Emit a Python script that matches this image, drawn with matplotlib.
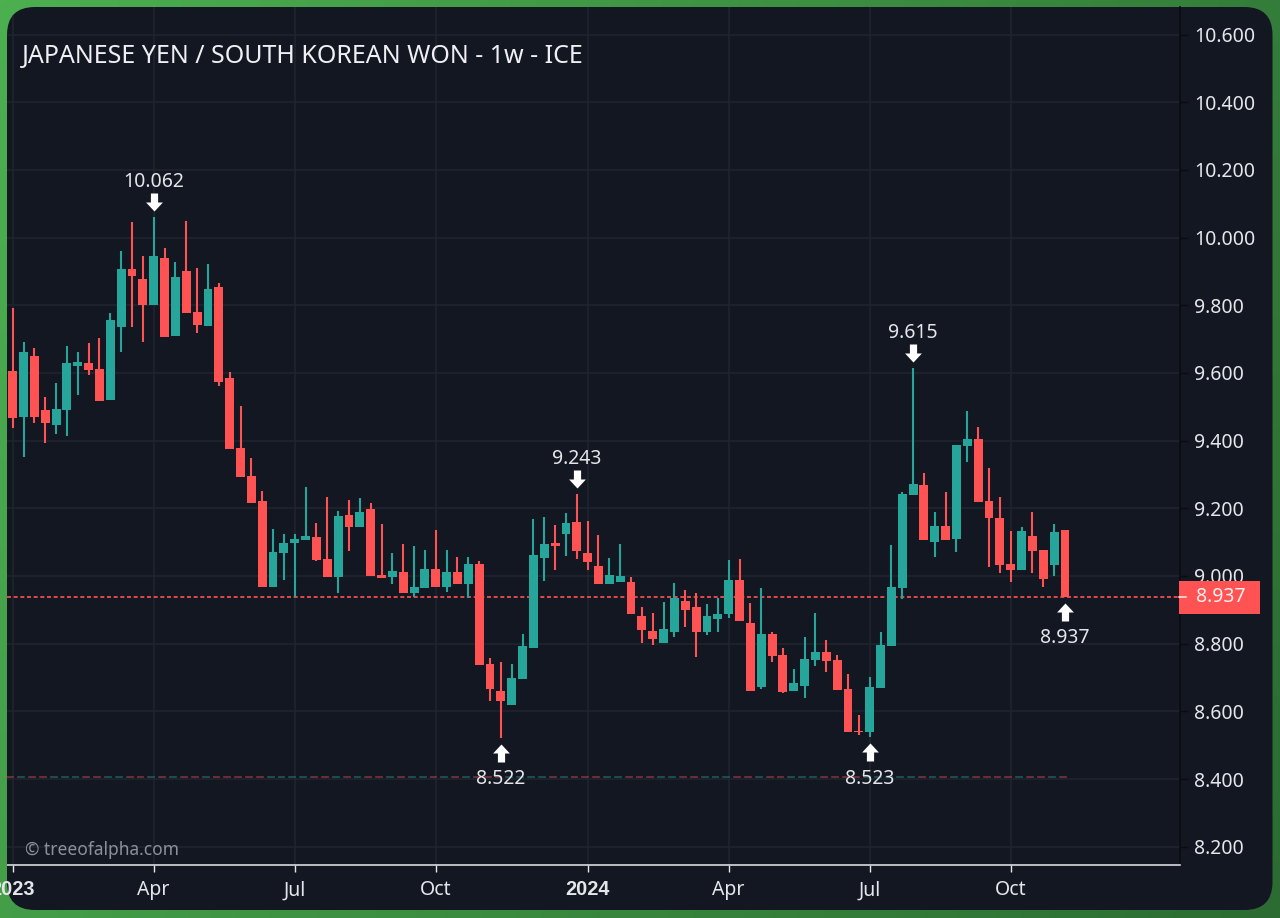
import numpy as np
import matplotlib
matplotlib.use("Agg")
import matplotlib.pyplot as plt
from matplotlib.patches import FancyBboxPatch, Rectangle
from matplotlib.path import Path
from matplotlib.transforms import offset_copy, blended_transform_factory

# Weekly candles, index 0 = first visible week of Jan 2023
opens = [9.607,9.470,9.650,9.490,9.445,9.490,9.620,9.628,9.612,9.520,
         9.736,9.907,9.878,9.800,9.940,9.709,9.902,9.781,9.739,9.853,
         9.584,9.377,9.295,9.221,8.968,9.069,9.097,9.105,9.116,9.049,
         8.998,9.180,9.145,9.197,9.004,8.997,9.012,8.951,8.964,9.021,
         8.968,9.012,8.976,9.036,8.740,8.659,8.620,8.696,8.788,9.052,
         9.098,9.124,9.159,9.067,9.030,8.977,8.982,8.982,8.882,8.838,
         8.803,8.834,8.926,8.908,8.834,8.873,8.889,8.988,8.862,8.672,
         8.828,8.766,8.659,8.676,8.753,8.776,8.753,8.665,8.542,8.540,
         8.670,8.794,8.964,9.239,9.268,9.100,9.149,9.110,9.384,9.405,
         9.222,9.172,9.035,9.018,9.118,9.076,9.033,9.135]
highs = [9.793,9.692,9.673,9.528,9.571,9.680,9.661,9.688,9.702,9.778,
         9.960,10.046,9.946,10.062,9.970,9.928,10.050,9.909,9.922,9.867,
         9.602,9.503,9.348,9.252,9.140,9.124,9.124,9.264,9.157,9.234,
         9.193,9.225,9.229,9.217,9.154,9.069,9.094,9.089,9.077,9.136,
         9.077,9.057,9.057,9.044,8.757,8.745,8.739,8.828,9.167,9.173,
         9.151,9.185,9.243,9.163,9.121,9.054,9.094,8.998,8.907,8.891,
         8.924,8.980,8.959,8.951,8.918,8.936,9.047,9.049,8.921,8.964,
         8.835,8.786,8.724,8.820,8.890,8.810,8.766,8.710,8.588,8.702,
         8.834,9.092,9.249,9.615,9.303,9.190,9.249,9.386,9.487,9.439,
         9.318,9.233,9.133,9.144,9.188,9.076,9.154,9.137]
lows = [9.436,9.352,9.453,9.394,9.420,9.414,9.535,9.594,9.516,9.520,
        9.663,9.737,9.692,9.800,9.706,9.709,9.776,9.719,9.739,9.562,
        9.375,9.292,9.215,8.968,8.968,8.988,8.939,9.105,9.044,8.998,
        8.949,9.074,9.145,9.000,8.995,8.977,8.951,8.937,8.964,8.968,
        8.954,8.976,8.935,8.737,8.631,8.522,8.620,8.696,8.788,8.985,
        9.018,9.060,9.049,9.018,8.977,8.977,8.982,8.888,8.801,8.796,
        8.803,8.820,8.850,8.761,8.826,8.835,8.877,8.868,8.659,8.665,
        8.745,8.655,8.659,8.639,8.735,8.716,8.663,8.540,8.531,8.523,
        8.670,8.794,8.931,9.239,9.105,9.057,9.105,9.072,9.338,9.219,
        9.027,9.008,8.983,9.018,9.008,8.968,9.001,8.937]
closes = [9.466,9.661,9.470,9.453,9.493,9.628,9.632,9.609,9.516,9.756,
          9.907,9.887,9.800,9.946,9.706,9.883,9.776,9.742,9.849,9.572,
          9.375,9.292,9.215,8.968,9.071,9.097,9.108,9.118,9.046,8.998,
          9.177,9.146,9.188,9.000,8.995,9.015,8.951,8.967,9.021,8.968,
          9.012,8.976,9.036,8.737,8.667,8.630,8.699,8.793,9.063,9.095,
          9.089,9.156,9.074,9.041,8.977,9.004,8.999,8.888,8.840,8.814,
          8.843,8.934,8.899,8.834,8.882,8.887,8.988,8.868,8.659,8.828,
          8.764,8.657,8.684,8.756,8.776,8.750,8.663,8.540,8.539,8.673,
          8.796,8.967,9.241,9.272,9.105,9.148,9.105,9.386,9.405,9.219,
          9.170,9.033,9.018,9.132,9.074,8.991,9.130,8.937]

price_ticks = [8.2,8.4,8.6,8.8,9.0,9.2,9.4,9.6,9.8,10.0,10.2,10.4,10.6]
time_ticks = [0,13,26,39,53,66,79,92]
time_labels = ["2023","Apr","Jul","Oct","2024","Apr","Jul","Oct"]
bold_labels = {"2023","2024"}
extreme_highs = [(13,"10.062"),(52,"9.243"),(83,"9.615")]
extreme_lows = [(45,"8.522"),(79,"8.523"),(97,"8.937")]
last_price = 8.937
base_level = 8.406
title = "JAPANESE YEN / SOUTH KOREAN WON - 1w - ICE"
watermark = "\u00a9 treeofalpha.com"

UP = "#26a69a"; DOWN = "#ff5252"; BG = "#131722"; GRID = "#20252f"; TXT = "#e4e6ea"
FONT = ["Noto Sans","DejaVu Sans"]
plt.rcParams["font.family"] = FONT
FS = 14.0

W, H = 1280, 918
fig = plt.figure(figsize=(W/100, H/100), dpi=100)

# Backdrop: green gradient and rounded panel, laid out in pixels
bg = fig.add_axes([0,0,1,1], zorder=0)
bg.set_xlim(0,W); bg.set_ylim(H,0); bg.axis("off")
gx, gy = np.meshgrid(np.linspace(0,1,128), np.linspace(0,1,92))
t = np.clip(0.75*gx+0.25*gy,0,1)[...,None]
grad = (1-t)*np.array([76,175,80])/255 + t*np.array([44,108,50])/255
bg.imshow(grad, extent=[0,W,H,0], aspect="auto", interpolation="bilinear")
bg.set_xlim(0,W); bg.set_ylim(H,0)
R = 28
panel = FancyBboxPatch((7+R,7+R), 1265.5-2*R, 903-2*R,
                       boxstyle=f"round,pad={R},rounding_size={R}", fc=BG, ec="none")
bg.add_patch(panel)

# Price pane
L, Rgt, T, B = 7, 1180, 7, 864.7
ax = fig.add_axes([L/W, 1-B/H, (Rgt-L)/W, (B-T)/H], zorder=1)
ax.patch.set_alpha(0)
xpx = lambda p: (p-12.7)/10.848
ax.set_xlim(xpx(L), xpx(Rgt))
ax.set_ylim(8.2+(846.7-B)/338.4, 8.2+(846.7-T)/338.4)

ax.yaxis.tick_right()
ax.set_yticks(price_ticks)
ax.set_yticklabels([f"{v:.3f}" for v in price_ticks])
ax.set_xticks(time_ticks)
ax.set_xticklabels(time_labels)
ax.tick_params(axis="y", colors=TXT, labelsize=FS, length=5.4, width=1, pad=5)
ax.tick_params(axis="y", color="#0a0c11")
ax.tick_params(axis="x", colors=TXT, labelsize=FS, length=5, width=1, pad=6.2)
ax.grid(True, color=GRID, lw=1.1, zorder=0)
ax.set_axisbelow(True)
for g in ax.get_xgridlines()+ax.get_ygridlines():
    g.set_clip_path(panel)
for s in ("top","left"):
    ax.spines[s].set_visible(False)
ax.spines["right"].set_color("#0a0c11"); ax.spines["right"].set_linewidth(1.2)
ax.spines["bottom"].set_color("#d8dade"); ax.spines["bottom"].set_linewidth(1.2)
ax.spines["bottom"].set_clip_path(panel)
for lab, txt in zip(ax.get_xticklabels(), time_labels):
    if txt in bold_labels:
        lab.set_family(["Liberation Sans","DejaVu Sans"])
        lab.set_fontweight("bold")
        lab.set_fontsize(14.3)
    lab.set_clip_path(panel)
    lab.set_clip_on(True)

idx = np.arange(len(opens))
o,h,l,c = map(np.array,(opens,highs,lows,closes))
up = c >= o
colors = np.where(up, UP, DOWN).tolist()

# Faint per-candle dashed base line
for i in idx:
    ax.plot([i-.5,i+.5],[base_level,base_level], color=colors[i], alpha=.5, lw=1.1,
            dashes=(4.5,2.2), zorder=1.5, dash_capstyle="butt")

ax.axhline(last_price, color=DOWN, lw=1.2, dashes=(2.4,1.6), zorder=2.6)
ax.vlines(idx, l, h, colors=colors, lw=1.5, zorder=3, capstyle="butt")
ax.bar(idx, np.abs(c-o), bottom=np.minimum(o,c), width=0.82, color=colors, lw=0, zorder=3.1)

# Block arrows and price notes on extremes
down_arrow = Path([(-3.6,-9),(3.6,-9),(3.6,0),(8.4,0),(0,9),(-8.4,0),(-3.6,0),(-3.6,-9)])
down_arrow = Path(down_arrow.vertices*np.array([1,-1]))
up_arrow = Path(down_arrow.vertices*np.array([1,-1]))
ms = 12.96
for i,s in extreme_highs:
    tr = offset_copy(ax.transData, fig=fig, x=0, y=14.7, units="dots")
    ax.plot([i],[h[i]], marker=down_arrow, ms=ms, mfc="white", mec="none", transform=tr, zorder=4)
    ax.annotate(s, (i,h[i]), xytext=(0,35*.72), textcoords="offset points",
                ha="center", va="center", color=TXT, fontsize=FS, zorder=4)
for i,s in extreme_lows:
    tr = offset_copy(ax.transData, fig=fig, x=0, y=-15, units="dots")
    ax.plot([i],[l[i]], marker=up_arrow, ms=ms, mfc="white", mec="none", transform=tr, zorder=4)
    ax.annotate(s, (i,l[i]), xytext=(0,-41.2*.72), textcoords="offset points",
                ha="center", va="center", color=TXT, fontsize=FS, zorder=4)

# Last-price tag on the scale
ytr = blended_transform_factory(ax.transAxes, ax.transData)
xa = lambda px: (px-L)/(Rgt-L)
ax.add_patch(Rectangle((xa(1178.7), last_price-16.3/338.4), xa(1260)-xa(1178.7), 32.3/338.4,
                       transform=ytr, fc=DOWN, ec="none", clip_on=False, zorder=5))
ax.plot([xa(1178.7),xa(1186)],[last_price,last_price], color="#f5e9e9", lw=1.1,
        transform=ytr, clip_on=False, zorder=6)
ax.text(xa(1196), last_price, f"{last_price:.3f}", transform=ytr, color="#fbeeee",
        fontsize=FS, va="center", ha="left", clip_on=False, zorder=6)

fig.text(22/W, 1-56/H, title, color="#eef0f3", fontsize=18.0, va="center", ha="left", zorder=3)
fig.text(25/W, 1-850/H, watermark, color="#8b9099", fontsize=12.5, va="center", ha="left", zorder=3)

fig.savefig("out.png", dpi=100, facecolor="#3a8a40")
